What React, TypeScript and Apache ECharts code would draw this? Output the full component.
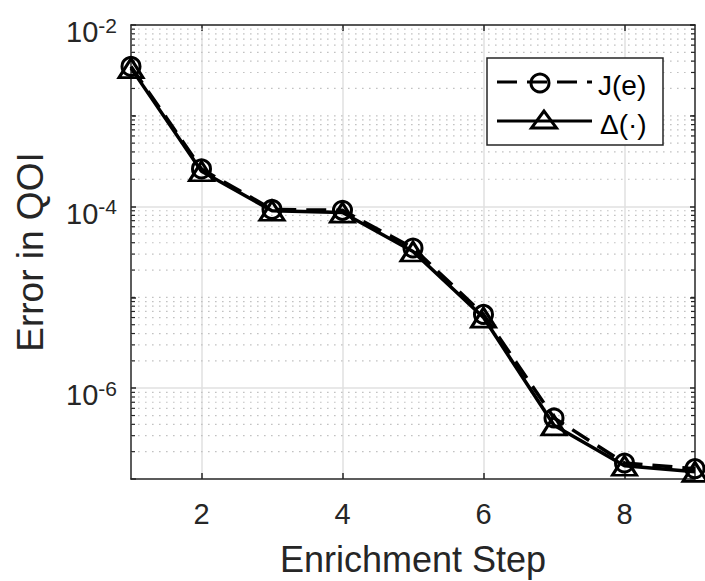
import React, { useEffect, useRef } from 'react';
import * as echarts from 'echarts';

// ---- data ----
const steps = ['1', '2', '3', '4', '5', '6', '7', '8', '9'];
const jValues = [3.5e-3, 2.6e-4, 9.3e-5, 9.1e-5, 3.5e-5, 6.5e-6, 4.7e-7, 1.5e-7, 1.3e-7];
const deltaValues = [3.35e-3, 2.45e-4, 9.0e-5, 8.6e-5, 3.2e-5, 6.0e-6, 3.9e-7, 1.4e-7, 1.2e-7];
const seriesNames = ['J(e)', 'Δ(·)'];
const yMin = 1e-7;
const yMax = 1e-2;
const yMinorMultipliers = [2, 3, 4, 5, 6, 7, 8, 9];
const yDecadeExps = [-7, -6, -5, -4, -3];
const yUnlabeledDecades = [1e-5, 1e-3];

const yMinorTicks: number[] = [];
yDecadeExps.forEach((e) => yMinorMultipliers.forEach((k) => yMinorTicks.push(k * Math.pow(10, e))));
const minorLineValues = [...yMinorTicks, ...yUnlabeledDecades];

const FONT = '"Liberation Sans", Arial, Helvetica, sans-serif';
const AX = '#262626';

export default function App() {
  const ref = useRef<HTMLDivElement>(null);
  useEffect(() => {
    if (!ref.current) return;
    const chart = echarts.init(ref.current, undefined, { renderer: 'svg' });
    const evenIdx = (i: number) => i % 2 === 1;
    const option: any = {
      animation: false,
      backgroundColor: '#ffffff',
      textStyle: { fontFamily: FONT },
      grid: { left: 131, right: 10, top: 25, bottom: 102, outerBoundsMode: 'none', containLabel: false },
      xAxis: [
        {
          type: 'category',
          data: steps,
          boundaryGap: false,
          position: 'bottom',
          name: 'Enrichment Step',
          nameLocation: 'middle',
          nameGap: 62,
          nameTextStyle: { fontSize: 36, color: AX, fontFamily: FONT },
          axisLine: { show: true, lineStyle: { color: AX, width: 1.5 } },
          axisTick: { show: true, inside: true, length: 6, interval: evenIdx, alignWithLabel: true, lineStyle: { color: AX, width: 1.5 } },
          axisLabel: { show: true, interval: evenIdx, margin: 20, fontSize: 29, color: AX, fontFamily: FONT },
          splitLine: { show: true, interval: evenIdx, lineStyle: { color: '#e0e0e0', width: 1.5 } },
        },
        {
          type: 'category',
          data: steps,
          boundaryGap: false,
          position: 'top',
          axisLine: { show: true, lineStyle: { color: AX, width: 1.5 } },
          axisTick: { show: true, inside: true, length: 6, interval: evenIdx, alignWithLabel: true, lineStyle: { color: AX, width: 1.5 } },
          axisLabel: { show: false },
          splitLine: { show: false },
        },
      ],
      yAxis: [
        {
          type: 'log',
          logBase: 10,
          min: yMin,
          max: yMax,
          position: 'left',
          name: 'Error in QOI',
          nameLocation: 'middle',
          nameGap: 82,
          nameTextStyle: { fontSize: 37, color: AX, fontFamily: FONT },
          axisLine: { show: true, lineStyle: { color: AX, width: 1.5 } },
          axisTick: { show: true, inside: true, length: 5, lineStyle: { color: AX, width: 1.5 } },
          axisLabel: {
            show: true,
            margin: 14,
            color: AX,
            fontFamily: FONT,
            formatter: (v: number) => {
              const e = Math.round(Math.log10(v));
              return Math.abs(e) % 2 === 0 ? `{b|10}{s|${e}}` : '';
            },
            rich: {
              b: { fontSize: 29, color: AX, fontFamily: FONT, padding: [14, 0, 0, 0] },
              s: { fontSize: 21, color: AX, fontFamily: FONT },
            },
          },
          splitLine: { show: true, lineStyle: { color: ['rgba(0,0,0,0)', '#e0e0e0'], width: 1.5 } },
        },
        {
          type: 'log',
          logBase: 10,
          min: yMin,
          max: yMax,
          position: 'right',
          axisLine: { show: true, lineStyle: { color: AX, width: 1.5 } },
          axisTick: { show: true, inside: true, length: 5, lineStyle: { color: AX, width: 1.5 } },
          axisLabel: { show: false },
          splitLine: { show: false },
        },
      ],
      series: [
        {
          type: 'custom',
          name: 'minor',
          xAxisIndex: 0,
          yAxisIndex: 0,
          silent: true,
          z: 1,
          clip: false,
          encode: { x: 0, y: 1 },
          data: minorLineValues.map((v) => [0, v]),
          renderItem: (params: any, api: any) => {
            const p = api.coord([0, api.value(1)]);
            const cs = params.coordSys;
            const y = p[1];
            return {
              type: 'group',
              children: [
                { type: 'line', shape: { x1: cs.x, y1: y, x2: cs.x + cs.width, y2: y }, style: { stroke: '#c2c2c2', lineWidth: 1.2, lineDash: [1.6, 5.4] } },
                { type: 'line', shape: { x1: cs.x, y1: y, x2: cs.x + 4, y2: y }, style: { stroke: AX, lineWidth: 1.2 } },
                { type: 'line', shape: { x1: cs.x + cs.width - 4, y1: y, x2: cs.x + cs.width, y2: y }, style: { stroke: AX, lineWidth: 1.2 } },
              ],
            };
          },
        },
        {
          type: 'line',
          name: seriesNames[0],
          data: jValues,
          z: 3,
          clip: false,
          symbol: 'circle',
          symbolSize: 18,
          lineStyle: { color: '#000', width: 3.5, type: [20, 10] },
          itemStyle: { color: 'rgba(0,0,0,0)', borderColor: '#000', borderWidth: 3 },
        },
        {
          type: 'line',
          name: seriesNames[1],
          data: deltaValues,
          z: 3,
          clip: false,
          symbol: 'triangle',
          symbolSize: [24, 19],
          lineStyle: { color: '#000', width: 3.5, type: 'solid' },
          itemStyle: { color: 'rgba(0,0,0,0)', borderColor: '#000', borderWidth: 3 },
        },
      ],
      graphic: [
        { type: 'rect', z: 100, shape: { x: 487, y: 58, width: 176, height: 87 }, style: { fill: '#fff', stroke: AX, lineWidth: 1.5 } },
        { type: 'line', z: 101, shape: { x1: 497, y1: 82, x2: 592, y2: 82 }, style: { stroke: '#000', lineWidth: 3, lineDash: [20, 10] } },
        { type: 'circle', z: 102, shape: { cx: 540, cy: 83, r: 9 }, style: { fill: 'none', stroke: '#000', lineWidth: 3 } },
        { type: 'text', z: 102, x: 598, y: 85, style: { text: seriesNames[0], fontSize: 28, fontFamily: FONT, fill: '#000', align: 'left', verticalAlign: 'middle' } },
        { type: 'line', z: 101, shape: { x1: 497, y1: 121, x2: 592, y2: 121 }, style: { stroke: '#000', lineWidth: 3 } },
        { type: 'polygon', z: 102, shape: { points: [[544, 111], [531.5, 128], [556.5, 128]] }, style: { fill: 'none', stroke: '#000', lineWidth: 3 } },
        { type: 'text', z: 102, x: 600, y: 124, style: { text: seriesNames[1], fontSize: 28, fontFamily: FONT, fill: '#000', align: 'left', verticalAlign: 'middle' } },
      ],
    };
    chart.setOption(option);
    return () => chart.dispose();
  }, []);
  return <div ref={ref} style={{ position: 'fixed', left: 0, top: 0, width: 705, height: 581, background: '#fff' }} />;
}
